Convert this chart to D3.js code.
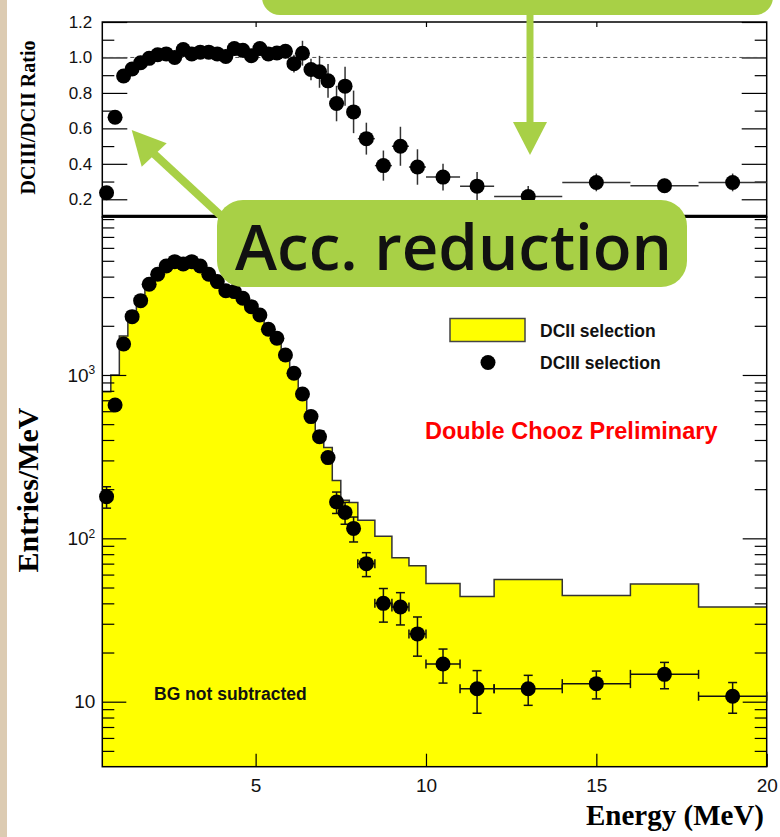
<!DOCTYPE html>
<html>
<head>
<meta charset="utf-8">
<script src="https://cdn.jsdelivr.net/npm/d3@7"></script>
<style>
  html, body { margin: 0; padding: 0; background: #fff; }
  svg { display: block; }
  .tick text { font-family: 'Liberation Sans', Arial, sans-serif; fill: #111; }
  .tick line { stroke-width: 1.2; }
</style>
</head>
<body>
<div id="chart"></div>
<script>
// bin edges in MeV (0.25 MeV bins up to 8, then wider)
const binEdges = [0.5, 0.75, 1, 1.25, 1.5, 1.75, 2, 2.25, 2.5, 2.75, 3, 3.25, 3.5, 3.75, 4, 4.25,
  4.5, 4.75, 5, 5.25, 5.5, 5.75, 6, 6.25, 6.5, 6.75, 7, 7.25, 7.5, 7.75, 8, 8.5, 9, 9.5, 10,
  11, 12, 14, 16, 18, 20];

// DCII selection (yellow histogram), entries/MeV
const dc2Rate = [790, 1000, 1730, 2450, 2970, 3660, 4140, 4600, 4840, 4730, 4940, 4470, 4020,
  3620, 3220, 3150, 2890, 2620, 2240, 1830, 1660, 1300, 1065, 750, 597, 456, 360, 226, 171,
  166, 129, 103, 76, 68, 53, 44, 56, 44.6, 52.5, 38];

// DCIII selection (points), entries/MeV
const dc3Rate = [180, 655, 1549, 2275, 2850, 3590, 4140, 4645, 4940, 4780, 4940, 4645, 4140,
  3730, 3280, 3240, 2950, 2620, 2330, 1905, 1677, 1325, 1024, 765, 556, 419, 312, 167, 144,
  115, 70, 40, 38, 26, 17, 12, 12, 12.9, 14.7, 10.8];
const dc3Err = [27, 30, 45, 55, 60, 70, 75, 80, 80, 80, 80, 80, 75, 70, 65, 65, 60, 58, 55,
  50, 45, 40, 35, 30, 26, 22, 20, 25, 22, 20, 11.7, 9.3, 8.5, 7, 4, 3.5, 2.5, 2.5, 2.7, 2.3];

// DCIII/DCII ratio
const ratio = [0.237, 0.663, 0.895, 0.935, 0.97, 0.995, 1.015, 1.02, 1.0, 1.045, 1.02, 1.03,
  1.03, 1.02, 1.005, 1.05, 1.04, 1.01, 1.05, 1.02, 1.025, 1.035, 0.965, 1.024, 0.932, 0.919,
  0.868, 0.74, 0.838, 0.693, 0.542, 0.39, 0.499, 0.382, 0.325, 0.274, 0.215, 0.295, 0.276, 0.295];
const ratioErr = [0.02, 0.025, 0.02, 0.02, 0.02, 0.02, 0.02, 0.02, 0.02, 0.02, 0.02, 0.02,
  0.02, 0.02, 0.02, 0.02, 0.02, 0.02, 0.025, 0.025, 0.03, 0.04, 0.05, 0.07, 0.06, 0.09, 0.095,
  0.1, 0.11, 0.12, 0.09, 0.085, 0.11, 0.1, 0.075, 0.08, 0.06, 0.05, 0.04, 0.05];

const xTicks = [5, 10, 15, 20];
const ratioMajor = [0.2, 0.4, 0.6, 0.8, 1.0, 1.2];
const ratioMinor = [0.3, 0.5, 0.7, 0.9, 1.1];
const logMajor = [10, 100, 1000];
const logMinor = [5, 6, 7, 8, 9, 20, 30, 40, 50, 60, 70, 80, 90, 200, 300, 400, 500, 600, 700,
  800, 900, 2000, 3000, 4000, 5000, 6000, 7000, 8000, 9000];

const svgWidth = 780;
const svgHeight = 837;
const frame = {left: 102.3, right: 766.7, top: 22, mid: 217, bottom: 766.7};
const green = '#a8d046';

const svg = d3.select('#chart').append('svg')
    .attr('width', svgWidth)
    .attr('height', svgHeight);

svg.append('rect').attr('width', svgWidth).attr('height', svgHeight).attr('fill', '#fff');
svg.append('rect').attr('width', 7).attr('height', svgHeight).attr('fill', '#dccbb2');

const x = d3.scaleLinear().domain([0.5, 20]).range([frame.left, frame.right]);
const yR = d3.scaleLinear().domain([0.1, 1.2]).range([frame.mid, frame.top]);
const yE = d3.scaleLog().domain([4, 9270]).range([frame.bottom, frame.mid]);

const bins = dc3Rate.map((v, i) => ({
  lo: binEdges[i],
  hi: binEdges[i + 1],
  mid: (binEdges[i] + binEdges[i + 1]) / 2,
  dc2: dc2Rate[i],
  dc3: v,
  err: dc3Err[i],
  r: ratio[i],
  rErr: ratioErr[i]
}));

// ---------- bottom panel: histogram ----------
const steps = [];
bins.forEach(b => { steps.push([b.lo, b.dc2], [b.hi, b.dc2]); });

svg.append('path')
    .datum(steps)
    .attr('fill', '#ffff00')
    .attr('d', d3.area().x(d => x(d[0])).y0(frame.bottom).y1(d => yE(d[1])));

svg.append('path')
    .datum(steps)
    .attr('fill', 'none')
    .attr('stroke', '#333')
    .attr('stroke-width', 1.5)
    .attr('d', d3.line().x(d => x(d[0])).y(d => yE(d[1])));

// ---------- axes ----------
const noDomain = g => g.select('.domain').remove();

// bottom panel left
const leftE = svg.append('g')
    .attr('transform', `translate(${frame.left},0)`)
    .style('color', '#000')
    .call(d3.axisLeft(yE).tickValues(logMajor).tickSizeInner(-24).tickSizeOuter(0)
        .tickPadding(7).tickFormat(() => '10'))
    .call(noDomain);
leftE.selectAll('.tick text')
    .attr('font-size', 19)
    .each(function(d) {
      if (d > 10) {
        d3.select(this).append('tspan')
            .attr('dy', '-0.6em')
            .attr('font-size', 12)
            .text(Math.round(Math.log10(d)));
      }
    });
svg.append('g')
    .attr('transform', `translate(${frame.left},0)`)
    .style('color', '#000')
    .call(d3.axisLeft(yE).tickValues(logMinor).tickSizeInner(-12).tickSizeOuter(0).tickFormat(''))
    .call(noDomain);

// bottom panel right
svg.append('g')
    .attr('transform', `translate(${frame.right},0)`)
    .style('color', '#000')
    .call(d3.axisRight(yE).tickValues(logMajor).tickSizeInner(-24).tickSizeOuter(0).tickFormat(''))
    .call(noDomain);
svg.append('g')
    .attr('transform', `translate(${frame.right},0)`)
    .style('color', '#000')
    .call(d3.axisRight(yE).tickValues(logMinor).tickSizeInner(-12).tickSizeOuter(0).tickFormat(''))
    .call(noDomain);

// bottom panel x
svg.append('g')
    .attr('transform', `translate(0,${frame.bottom})`)
    .style('color', '#000')
    .call(d3.axisBottom(x).tickValues(xTicks).tickSizeInner(-13).tickSizeOuter(0).tickPadding(12))
    .call(noDomain)
    .selectAll('.tick text').attr('font-size', 19);
svg.append('g')
    .attr('transform', `translate(0,${frame.mid})`)
    .style('color', '#000')
    .call(d3.axisTop(x).tickValues(xTicks.slice(0, 3)).tickSizeInner(-13).tickSizeOuter(0).tickFormat(''))
    .call(noDomain);

// top panel left / right
const leftR = svg.append('g')
    .attr('transform', `translate(${frame.left},0)`)
    .style('color', '#000')
    .call(d3.axisLeft(yR).tickValues(ratioMajor).tickSizeInner(-25).tickSizeOuter(0)
        .tickPadding(10).tickFormat(d3.format('.1f')))
    .call(noDomain);
leftR.selectAll('.tick text').attr('font-size', 17);
svg.append('g')
    .attr('transform', `translate(${frame.left},0)`)
    .style('color', '#000')
    .call(d3.axisLeft(yR).tickValues(ratioMinor).tickSizeInner(-12).tickSizeOuter(0).tickFormat(''))
    .call(noDomain);
svg.append('g')
    .attr('transform', `translate(${frame.right},0)`)
    .style('color', '#000')
    .call(d3.axisRight(yR).tickValues(ratioMajor).tickSizeInner(-25).tickSizeOuter(0).tickFormat(''))
    .call(noDomain);
svg.append('g')
    .attr('transform', `translate(${frame.right},0)`)
    .style('color', '#000')
    .call(d3.axisRight(yR).tickValues(ratioMinor).tickSizeInner(-12).tickSizeOuter(0).tickFormat(''))
    .call(noDomain);
svg.append('g')
    .attr('transform', `translate(0,${frame.top})`)
    .style('color', '#000')
    .call(d3.axisTop(x).tickValues(xTicks.slice(0, 3)).tickSizeInner(-5).tickSizeOuter(0).tickFormat(''))
    .call(noDomain);
svg.append('g')
    .attr('transform', `translate(0,${frame.mid})`)
    .style('color', '#000')
    .call(d3.axisBottom(x).tickValues(xTicks.slice(0, 3)).tickSizeInner(-5).tickSizeOuter(0).tickFormat(''))
    .call(noDomain);

// dashed unity line
svg.append('line')
    .attr('x1', frame.left).attr('x2', frame.right)
    .attr('y1', yR(1)).attr('y2', yR(1))
    .attr('stroke', '#555')
    .attr('stroke-width', 1)
    .attr('stroke-dasharray', '4,3');

// frames
svg.append('rect')
    .attr('x', frame.left).attr('y', frame.top)
    .attr('width', frame.right - frame.left).attr('height', frame.mid - frame.top)
    .attr('fill', 'none').attr('stroke', '#000').attr('stroke-width', 1.5);
svg.append('rect')
    .attr('x', frame.left).attr('y', frame.mid)
    .attr('width', frame.right - frame.left).attr('height', frame.bottom - frame.mid)
    .attr('fill', 'none').attr('stroke', '#000').attr('stroke-width', 1.5);
svg.append('line')
    .attr('x1', frame.left).attr('x2', frame.right)
    .attr('y1', frame.mid - 1).attr('y2', frame.mid - 1)
    .attr('stroke', '#000').attr('stroke-width', 2.5);

// ---------- top panel points ----------
const gR = svg.append('g').attr('stroke', '#333').attr('stroke-width', 1.5);
gR.selectAll('line.v').data(bins).join('line')
    .attr('x1', d => x(d.mid)).attr('x2', d => x(d.mid))
    .attr('y1', d => yR(d.r - d.rErr)).attr('y2', d => yR(d.r + d.rErr));
gR.selectAll('line.h').data(bins).join('line')
    .attr('x1', d => x(d.lo)).attr('x2', d => x(d.hi))
    .attr('y1', d => yR(d.r)).attr('y2', d => yR(d.r));
svg.append('g').selectAll('circle').data(bins).join('circle')
    .attr('cx', d => x(d.mid))
    .attr('cy', d => yR(d.r))
    .attr('r', 7.5)
    .attr('fill', '#000');

// ---------- bottom panel points ----------
const gE = svg.append('g').attr('stroke', '#111').attr('stroke-width', 1.5);
const cap = 4.5;
gE.selectAll('line.v').data(bins).join('line')
    .attr('x1', d => x(d.mid)).attr('x2', d => x(d.mid))
    .attr('y1', d => yE(d.dc3 - d.err)).attr('y2', d => yE(d.dc3 + d.err));
gE.selectAll('line.h').data(bins).join('line')
    .attr('x1', d => x(d.lo)).attr('x2', d => x(d.hi))
    .attr('y1', d => yE(d.dc3)).attr('y2', d => yE(d.dc3));
['lo', 'hi'].forEach(k => {
  gE.selectAll(`line.hc${k}`).data(bins).join('line')
      .attr('x1', d => x(d[k])).attr('x2', d => x(d[k]))
      .attr('y1', d => yE(d.dc3) - cap).attr('y2', d => yE(d.dc3) + cap);
});
[-1, 1].forEach(s => {
  gE.selectAll(`line.vc${s}`).data(bins).join('line')
      .attr('x1', d => x(d.mid) - cap).attr('x2', d => x(d.mid) + cap)
      .attr('y1', d => yE(d.dc3 + s * d.err)).attr('y2', d => yE(d.dc3 + s * d.err));
});
svg.append('g').selectAll('circle').data(bins).join('circle')
    .attr('cx', d => x(d.mid))
    .attr('cy', d => yE(d.dc3))
    .attr('r', 7.5)
    .attr('fill', '#000');

// ---------- texts ----------
const sans = "'Liberation Sans', Arial, Helvetica, sans-serif";
const serif = "'Liberation Serif', 'Times New Roman', serif";

svg.append('text')
    .attr('transform', 'translate(35,117.5) rotate(-90)')
    .attr('text-anchor', 'middle')
    .attr('font-family', serif).attr('font-weight', 'bold').attr('font-size', 20)
    .text('DCIII/DCII Ratio');
svg.append('text')
    .attr('transform', 'translate(38,490) rotate(-90)')
    .attr('text-anchor', 'middle')
    .attr('font-family', serif).attr('font-weight', 'bold').attr('font-size', 30)
    .text('Entries/MeV');
svg.append('text')
    .attr('x', 764).attr('y', 825)
    .attr('text-anchor', 'end')
    .attr('font-family', serif).attr('font-weight', 'bold').attr('font-size', 29)
    .text('Energy (MeV)');

// legend
svg.append('rect')
    .attr('x', 450).attr('y', 318.5).attr('width', 75).attr('height', 23)
    .attr('fill', '#ffff00').attr('stroke', '#444').attr('stroke-width', 1.5);
svg.append('circle').attr('cx', 488).attr('cy', 362.5).attr('r', 7.5).attr('fill', '#000');
svg.append('text')
    .attr('x', 540).attr('y', 337)
    .attr('font-family', sans).attr('font-weight', 'bold').attr('font-size', 17.5).attr('fill', '#111')
    .text('DCII selection');
svg.append('text')
    .attr('x', 540).attr('y', 369)
    .attr('font-family', sans).attr('font-weight', 'bold').attr('font-size', 17.5).attr('fill', '#111')
    .text('DCIII selection');

svg.append('text')
    .attr('x', 425).attr('y', 439)
    .attr('font-family', sans).attr('font-weight', 'bold').attr('font-size', 23.5).attr('fill', '#ff0000')
    .text('Double Chooz Preliminary');
svg.append('text')
    .attr('x', 154).attr('y', 700)
    .attr('font-family', sans).attr('font-weight', 'bold').attr('font-size', 17.5).attr('fill', '#111')
    .text('BG not subtracted');

// ---------- slide annotations ----------
svg.append('rect')
    .attr('x', 262).attr('y', -30).attr('width', 511).attr('height', 45).attr('rx', 18)
    .attr('fill', green);
svg.append('line')
    .attr('x1', 530).attr('x2', 530).attr('y1', 10).attr('y2', 125)
    .attr('stroke', green).attr('stroke-width', 7);
svg.append('path')
    .attr('d', 'M513,122 L547,122 L530,155 Z')
    .attr('fill', green);

svg.append('line')
    .attr('x1', 232).attr('y1', 226).attr('x2', 152).attr('y2', 152)
    .attr('stroke', green).attr('stroke-width', 8);
svg.append('path')
    .attr('d', 'M131.7,130 L141.7,166.7 L166.7,143.3 Z')
    .attr('fill', green);
svg.append('rect')
    .attr('x', 217).attr('y', 200).attr('width', 470).attr('height', 87).attr('rx', 26)
    .attr('fill', green);
svg.append('text')
    .attr('x', 235).attr('y', 270)
    .attr('textLength', 437)
    .attr('lengthAdjust', 'spacingAndGlyphs')
    .attr('font-family', "'Open Sans', 'DejaVu Sans', sans-serif")
    .attr('font-weight', 600)
    .attr('font-size', 64)
    .attr('fill', '#111')
    .text('Acc. reduction');
</script>
</body>
</html>
